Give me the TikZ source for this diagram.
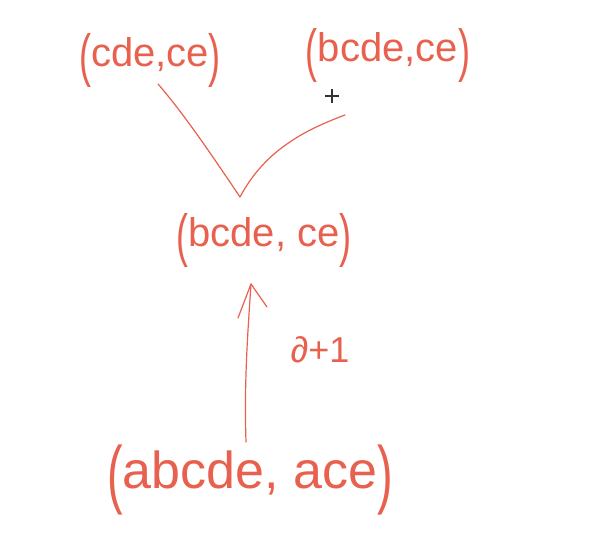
\documentclass[tikz,border=0pt]{standalone}
\usepackage{fontspec}
\setmainfont{Liberation Sans}
\definecolor{pen}{HTML}{E8614E}
\newcommand{\tallpar}[1]{\raisebox{-0.22em}{\scalebox{0.9}[1.45]{#1}}}
\tikzset{
  hand/.style={text=pen, inner sep=0pt, font=\fontsize{40}{44}\selectfont},
  big/.style={hand, font=\fontsize{52}{56}\selectfont},
  stroke/.style={draw=pen, line width=1.2pt, line cap=round, line join=round},
}
\begin{document}
\begin{tikzpicture}[x=1pt,y=-1pt]
\useasboundingbox (0,0) rectangle (595,545);
\fill[white] (0,0) rectangle (595,545);
\node[hand] (tl) at (150,60) {\tallpar{(}cde,ce\tallpar{)}};
\node[hand] (tr) at (388,55) {\tallpar{(}bcde,ce\tallpar{)}};
\node[hand] (mid) at (264,240) {\tallpar{(}bcde, ce\tallpar{)}};
\node[big] (bot) at (250,480) {\tallpar{(}abcde, ace\tallpar{)}};
\node[hand, font=\fontsize{36}{40}\selectfont] (lab) at (320,350) {∂+1};
\coordinate (vl) at (158,84);
\coordinate (vb) at (240,197);
\coordinate (vr) at (345,115);
\coordinate (as) at (246,442);
\coordinate (ae) at (251,284);
\draw[stroke] (vl) .. controls (185,115) and (215,160) .. (vb);
\draw[stroke] (vb) .. controls (265,150) and (305,130) .. (vr);
\draw[stroke] (as) .. controls (244,380) and (248,330) .. (ae);
\draw[stroke] (238,318) -- (ae) -- (267,307);
\draw[black!80, line width=1.1pt] (325,96) -- (339,96) (332,89) -- (332,103);
\end{tikzpicture}
\end{document}
